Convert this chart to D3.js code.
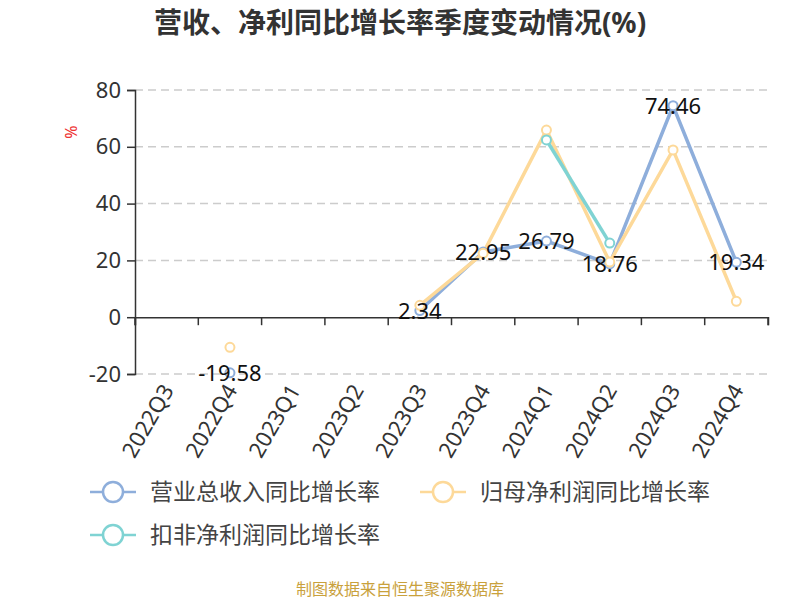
<!DOCTYPE html>
<html><head><meta charset="utf-8">
<script src="https://cdn.jsdelivr.net/npm/d3@7"></script>
<style>body{margin:0;background:#fff}text{font-family:"Noto Sans","Noto Sans CJK SC",sans-serif}</style>
</head><body>
<script>
var categories = ["2022Q3","2022Q4","2023Q1","2023Q2","2023Q3","2023Q4","2024Q1","2024Q2","2024Q3","2024Q4"];
var revenue = [null,-19.58,null,null,2.34,22.95,26.79,18.76,74.46,19.34];
var netProfit = [null,-10.6,null,null,4.2,22.5,65.9,19.4,58.9,5.6];
var deductProfit = [null,null,null,null,null,null,62.4,26.1,null,null];
var seriesNames = ["营业总收入同比增长率","归母净利润同比增长率","扣非净利润同比增长率"];
var colors = ["#8eaedb","#fdd999","#7fd3d3"];
var yTicks = [-20,0,20,40,60,80];

var W = 800, H = 600;
var svg = d3.select("body").append("svg").attr("width", W).attr("height", H);
var x = d3.scaleBand().domain(categories).range([135, 768]);
var y = d3.scaleLinear().domain([-20, 80]).range([374, 90]);

svg.append("text").attr("x", 400).attr("y", 33).attr("text-anchor", "middle")
  .attr("font-size", 28).attr("font-weight", "bold").attr("fill", "#333")
  .text("营收、净利同比增长率季度变动情况(%)");

svg.selectAll(".grid").data(yTicks.filter(function(d){ return d !== 0; })).enter().append("line")
  .attr("x1", 135).attr("x2", 768).attr("y1", y).attr("y2", y)
  .attr("stroke", "#ccc").attr("stroke-dasharray", "8,5").attr("stroke-width", 1.5);

var ya = svg.append("g").attr("transform", "translate(135,0)")
  .call(d3.axisLeft(y).tickValues(yTicks).tickSize(8).tickPadding(6).tickFormat(function(d){ return String(d); }));
ya.selectAll("text").attr("font-size", 22).attr("fill", "#333");
ya.selectAll("line,path").attr("stroke", "#333").attr("stroke-width", 1.5);

var xa = svg.append("g").attr("transform", "translate(0," + y(0) + ")")
  .call(d3.axisBottom(x).tickSizeOuter(0).tickSize(8).tickFormat(""));
xa.selectAll("line,path").attr("stroke", "#333").attr("stroke-width", 1.5);
xa.selectAll(".tick line").attr("transform", "translate(" + (-x.bandwidth()/2) + ",0)");
svg.append("line").attr("x1", 768).attr("x2", 768).attr("y1", y(0)).attr("y2", y(0) + 8).attr("stroke", "#333").attr("stroke-width", 1.5);

svg.selectAll(".xl").data(categories).enter().append("text")
  .attr("transform", function(d){ return "translate(" + (x(d) + x.bandwidth()/2 + 8) + ",390) rotate(-60)"; })
  .attr("text-anchor", "end").attr("font-size", 22).attr("fill", "#333").text(function(d){ return d; });

svg.append("text").attr("transform", "translate(77,132) rotate(-90)").attr("text-anchor", "middle")
  .attr("font-size", 16).attr("fill", "#e33").text("%");

var cx = function(i){ return x(categories[i]) + x.bandwidth()/2; };
var line = d3.line().defined(function(d){ return d !== null; })
  .x(function(d, i){ return cx(i); }).y(function(d){ return y(d); });

[revenue, netProfit, deductProfit].forEach(function(s, k){
  svg.append("path").attr("d", line(s)).attr("fill", "none").attr("stroke", colors[k]).attr("stroke-width", 3.5);
});
[revenue, netProfit, deductProfit].forEach(function(s, k){
  svg.selectAll(".p" + k).data(s.map(function(v, i){ return {v: v, i: i}; }).filter(function(d){ return d.v !== null; }))
    .enter().append("circle").attr("cx", function(d){ return cx(d.i); }).attr("cy", function(d){ return y(d.v); })
    .attr("r", 4.5).attr("fill", "#fff").attr("stroke", colors[k]).attr("stroke-width", 2);
});

svg.selectAll(".lbl").data(revenue.map(function(v, i){ return {v: v, i: i}; }).filter(function(d){ return d.v !== null; }))
  .enter().append("text").attr("x", function(d){ return cx(d.i); }).attr("y", function(d){ return y(d.v) + 8; })
  .attr("text-anchor", "middle").attr("font-size", 22).attr("fill", "#111").text(function(d){ return d.v.toFixed(2); });

var legendPos = [[90, 492], [420, 492], [90, 535]];
seriesNames.forEach(function(n, k){
  var g = svg.append("g").attr("transform", "translate(" + legendPos[k][0] + "," + legendPos[k][1] + ")");
  g.append("line").attr("x1", 0).attr("x2", 46).attr("stroke", colors[k]).attr("stroke-width", 2.5);
  g.append("circle").attr("cx", 23).attr("r", 10).attr("fill", "#fff").attr("stroke", colors[k]).attr("stroke-width", 2.5);
  g.append("text").attr("x", 60).attr("y", 8).attr("font-size", 23).attr("fill", "#444").text(n);
});

svg.append("text").attr("x", 400).attr("y", 595).attr("text-anchor", "middle")
  .attr("font-size", 16).attr("fill", "#c9a13c").text("制图数据来自恒生聚源数据库");
</script>
</body></html>
